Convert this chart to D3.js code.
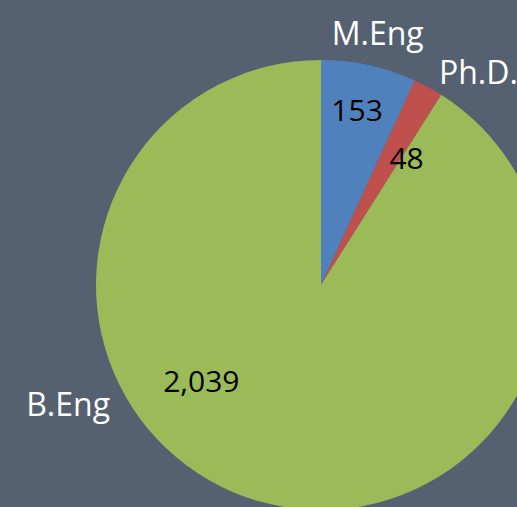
<!DOCTYPE html>
<html>
<head>
<meta charset="utf-8">
<script src="https://cdn.jsdelivr.net/npm/d3@7"></script>
<style>
  html, body { margin: 0; padding: 0; background: #556170; overflow: hidden; }
  svg { display: block; }
</style>
</head>
<body>
<svg id="chart"></svg>
<script>
// Data
const categories = ["M.Eng", "Ph.D.", "B.Eng"];
const values = [153, 48, 2039];
const colors = ["#4F81BD", "#C0504D", "#9BBB59"];

const W = 517, H = 507;
const cx = 321, cy = 285, R = 225;

// label placement (angle in degrees clockwise from top, radius px)
const nameSpots = [[12.7, 258], [36.6, 264], [244.6, 280]];
const valueSpots = [[11.7, 178], [34, 153], [231, 154]];

const svg = d3.select("#chart").attr("width", W).attr("height", H);

svg.append("rect").attr("width", W).attr("height", H).attr("fill", "#556170");

const g = svg.append("g").attr("transform", `translate(${cx},${cy})`);

const pie = d3.pie().sort(null).value(d => d.value);
const arc = d3.arc().innerRadius(0).outerRadius(R);

const data = categories.map((c, i) => ({ name: c, value: values[i], color: colors[i] }));

g.selectAll("path.slice")
    .data(pie(data))
    .join("path")
    .attr("class", "slice")
    .attr("d", arc)
    .attr("fill", d => d.data.color);

function polar(spot) {
    const a = spot[0] * Math.PI / 180;
    return [spot[1] * Math.sin(a), -spot[1] * Math.cos(a)];
}

const fmt = d3.format(",");
const font = "'Open Sans', 'Noto Sans', sans-serif";

g.selectAll("text.value")
    .data(data)
    .join("text")
    .attr("class", "value")
    .attr("x", (d, i) => polar(valueSpots[i])[0])
    .attr("y", (d, i) => polar(valueSpots[i])[1])
    .attr("dy", "0.35em")
    .attr("text-anchor", "middle")
    .attr("fill", "#000")
    .style("font-family", font)
    .style("font-size", "30px")
    .text(d => fmt(d.value));

g.selectAll("text.name")
    .data(data)
    .join("text")
    .attr("class", "name")
    .attr("x", (d, i) => polar(nameSpots[i])[0])
    .attr("y", (d, i) => polar(nameSpots[i])[1])
    .attr("dy", "0.35em")
    .attr("text-anchor", "middle")
    .attr("fill", "#fff")
    .style("font-family", font)
    .style("font-size", "32px")
    .text(d => d.name);
</script>
</body>
</html>
